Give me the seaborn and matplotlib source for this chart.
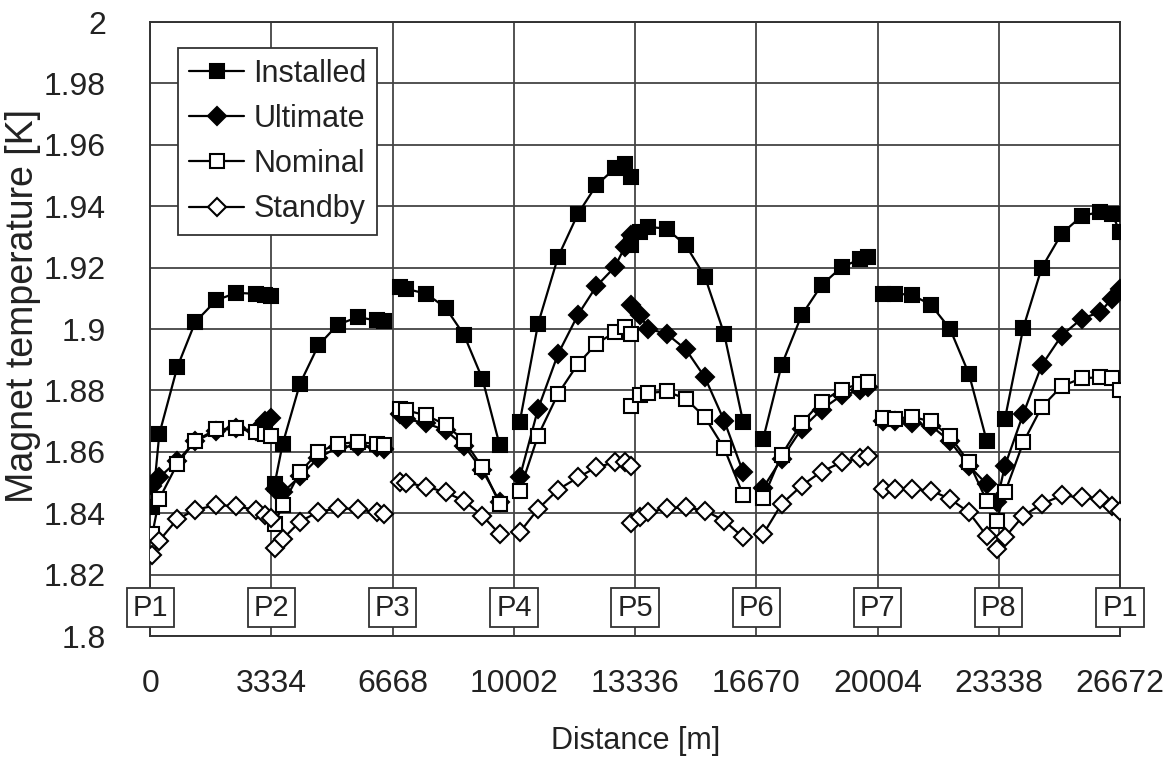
import matplotlib
matplotlib.use("Agg")
import matplotlib.pyplot as plt
import numpy as np
import pandas as pd
import seaborn as sns

# ---------------- data ----------------
x_ticks = [0, 3334, 6668, 10002, 13336, 16670, 20004, 23338, 26672]
point_labels = ["P1", "P2", "P3", "P4", "P5", "P6", "P7", "P8", "P1"]
y_ticks = [1.8, 1.82, 1.84, 1.86, 1.88, 1.9, 1.92, 1.94, 1.96, 1.98, 2.0]
y_tick_labels = ["1.8", "1.82", "1.84", "1.86", "1.88", "1.9", "1.92", "1.94", "1.96", "1.98", "2"]

# distance positions [m] of the computed points, one list per sector
sector_x = [
    [55, 248, 743, 1238, 1816, 2366, 2898, 3145, 3330],
    [3420, 3641, 4117, 4623, 5154, 5704, 6227, 6420],
    [6860, 7044, 7595, 8126, 8629, 9136, 9612],
    [10162, 10666, 11216, 11766, 12273, 12776, 13051, 13236],
    [13236, 13464, 13693, 14199, 14730, 15253, 15784, 16307],
    [16857, 17363, 17914, 18464, 19014, 19518, 19747],
    [20159, 20481, 20940, 21472, 21995, 22517, 23004],
    [23279, 23508, 24012, 24518, 25068, 25618, 26122, 26452, 26672],
]

installed = [
    [1.8419, 1.8658, 1.8876, 1.9023, 1.9094, 1.9118, 1.9115, 1.9110, 1.9107],
    [1.8495, 1.8626, 1.8822, 1.8947, 1.9014, 1.9039, 1.9028, 1.9025],
    [1.9137, 1.9131, 1.9115, 1.9069, 1.8981, 1.8838, 1.8621],
    [1.8697, 1.9017, 1.9235, 1.9376, 1.9469, 1.9523, 1.9539, 1.9496],
    [1.9273, 1.9316, 1.9333, 1.9327, 1.9273, 1.9171, 1.8985, 1.8697],
    [1.8642, 1.8882, 1.9045, 1.9143, 1.9202, 1.9227, 1.9235],
    [1.9115, 1.9115, 1.9112, 1.9079, 1.9001, 1.8854, 1.8637],
    [None, 1.8708, 1.9004, 1.9199, 1.9311, 1.9368, 1.9382, 1.9376, 1.9316],
]
ultimate = [
    [1.8490, 1.8517, 1.8570, 1.8635, 1.8668, 1.8678, 1.8668, 1.8700, 1.8710],
    [1.8480, 1.8468, 1.8520, 1.8580, 1.8615, 1.8620, 1.8615, 1.8610],
    [1.8725, 1.8707, 1.8693, 1.8670, 1.8620, 1.8540, 1.8438],
    [1.8517, 1.8740, 1.8919, 1.9047, 1.9140, 1.9202, 1.9267, 1.9306],
    [1.9080, 1.9047, 1.9001, 1.8985, 1.8934, 1.8843, 1.8702, 1.8534],
    [1.8483, 1.8577, 1.8675, 1.8738, 1.8784, 1.8800, 1.8812],
    [1.8702, 1.8700, 1.8695, 1.8685, 1.8635, 1.8555, 1.8495],
    [1.8436, 1.8555, 1.8724, 1.8882, 1.8979, 1.9034, 1.9055, 1.9099, 1.9131],
]
nominal = [
    [1.8332, 1.8447, 1.8561, 1.8637, 1.8673, 1.8677, 1.8664, 1.8659, 1.8653],
    [1.8365, 1.8427, 1.8534, 1.8599, 1.8626, 1.8632, 1.8626, 1.8621],
    [1.8740, 1.8735, 1.8719, 1.8688, 1.8637, 1.8550, 1.8430],
    [1.8474, 1.8653, 1.8789, 1.8887, 1.8952, 1.8990, 1.9007, 1.8985],
    [1.8751, 1.8786, 1.8792, 1.8797, 1.8773, 1.8713, 1.8612, 1.8460],
    [1.8449, 1.8590, 1.8694, 1.8764, 1.8803, 1.8822, 1.8829],
    [1.8710, 1.8707, 1.8715, 1.8699, 1.8651, 1.8566, 1.8441],
    [1.8376, 1.8468, 1.8631, 1.8746, 1.8814, 1.8840, 1.8843, 1.8840, 1.8800],
]
standby = [
    [1.8264, 1.8311, 1.8381, 1.8411, 1.8427, 1.8423, 1.8411, 1.8395, 1.8385],
    [1.8286, 1.8316, 1.8373, 1.8405, 1.8416, 1.8414, 1.8403, 1.8398],
    [1.8503, 1.8499, 1.8487, 1.8468, 1.8441, 1.8392, 1.8332],
    [1.8338, 1.8414, 1.8477, 1.8517, 1.8550, 1.8566, 1.8566, 1.8555],
    [1.8368, 1.8387, 1.8403, 1.8416, 1.8419, 1.8409, 1.8376, 1.8322],
    [1.8332, 1.8430, 1.8490, 1.8536, 1.8566, 1.8579, 1.8586],
    [1.8479, 1.8479, 1.8479, 1.8474, 1.8447, 1.8403, 1.8327],
    [1.8283, 1.8322, 1.8392, 1.8430, 1.8458, 1.8452, 1.8447, 1.8425, 1.8409],
]

series_names = ["Installed", "Ultimate", "Nominal", "Standby"]
series_values = [installed, ultimate, nominal, standby]

# ---------------- tidy frame ----------------
rows = []
for name, sectors in zip(series_names, series_values):
    for s, (xs, ys) in enumerate(zip(sector_x, sectors)):
        for xv, yv in zip(xs, ys):
            if yv is not None:
                rows.append({"series": name, "sector": s, "distance": xv, "temp": yv})
df = pd.DataFrame(rows)

# ---------------- style ----------------
sns.set_style("white")
plt.rcParams["font.family"] = ["Liberation Sans", "DejaVu Sans"]
TXT = "#222222"

fig = plt.figure(figsize=(11.74, 7.60), dpi=100)
ax = fig.add_axes([0.128, 0.163, 0.826, 0.808])

styles = {
    "Installed": dict(marker="s", markersize=10, markerfacecolor="black", zorder=3),
    "Ultimate": dict(marker="D", markersize=9, markerfacecolor="black", zorder=4),
    "Nominal": dict(marker="s", markersize=10, markerfacecolor="white", zorder=5),
    "Standby": dict(marker="D", markersize=9, markerfacecolor="white", zorder=6),
}

for name in series_names:
    sub = df[df["series"] == name]
    first = True
    for s, seg in sub.groupby("sector"):
        st = styles[name]
        sns.lineplot(
            data=seg, x="distance", y="temp", ax=ax, color="black",
            estimator=None, sort=False, linewidth=1.6,
            marker=st["marker"], markersize=st["markersize"],
            markerfacecolor=st["markerfacecolor"], markeredgecolor="black",
            markeredgewidth=1.5, zorder=st["zorder"],
            label=name if first else "_nolegend_",
        )
        first = False

ax.set_xlim(0, 26672)
ax.set_ylim(1.8, 2.0)
ax.set_xticks(x_ticks)
ax.set_xticklabels([str(v) for v in x_ticks])
ax.set_yticks(y_ticks)
ax.set_yticklabels(y_tick_labels)
ax.grid(True, color="#444444", linewidth=1.3)
ax.set_axisbelow(True)
for sp in ax.spines.values():
    sp.set_color("#333333")
    sp.set_linewidth(1.4)
ax.tick_params(axis="both", labelsize=23, colors=TXT, length=6,
               width=1.3, direction="out")
ax.tick_params(axis="x", pad=18)
ax.tick_params(axis="y", pad=26)

ax.set_xlabel("Distance [m]", fontsize=22, color=TXT, labelpad=19)
ax.set_ylabel("Magnet temperature [K]", fontsize=27, color=TXT)
ax.yaxis.set_label_coords(-0.113, 0.537)

# Point markers P1..P8
for xv, lab in zip(x_ticks, point_labels):
    ax.text(xv, 1.8093, lab, ha="center", va="center", fontsize=21,
            color=TXT, zorder=7, clip_on=False,
            bbox=dict(boxstyle="square,pad=0.2", fc="white", ec="#333333", lw=1.3))

leg = ax.legend(loc="upper left", bbox_to_anchor=(0.029, 0.958), borderaxespad=0,
                fontsize=22, frameon=True, fancybox=False, edgecolor="#333333",
                framealpha=1, handlelength=1.8, handletextpad=0.3,
                labelspacing=0.5, borderpad=0.35)
leg.get_frame().set_linewidth(1.3)
for t in leg.get_texts():
    t.set_color(TXT)

fig.savefig("out.png", dpi=100, facecolor="white")
